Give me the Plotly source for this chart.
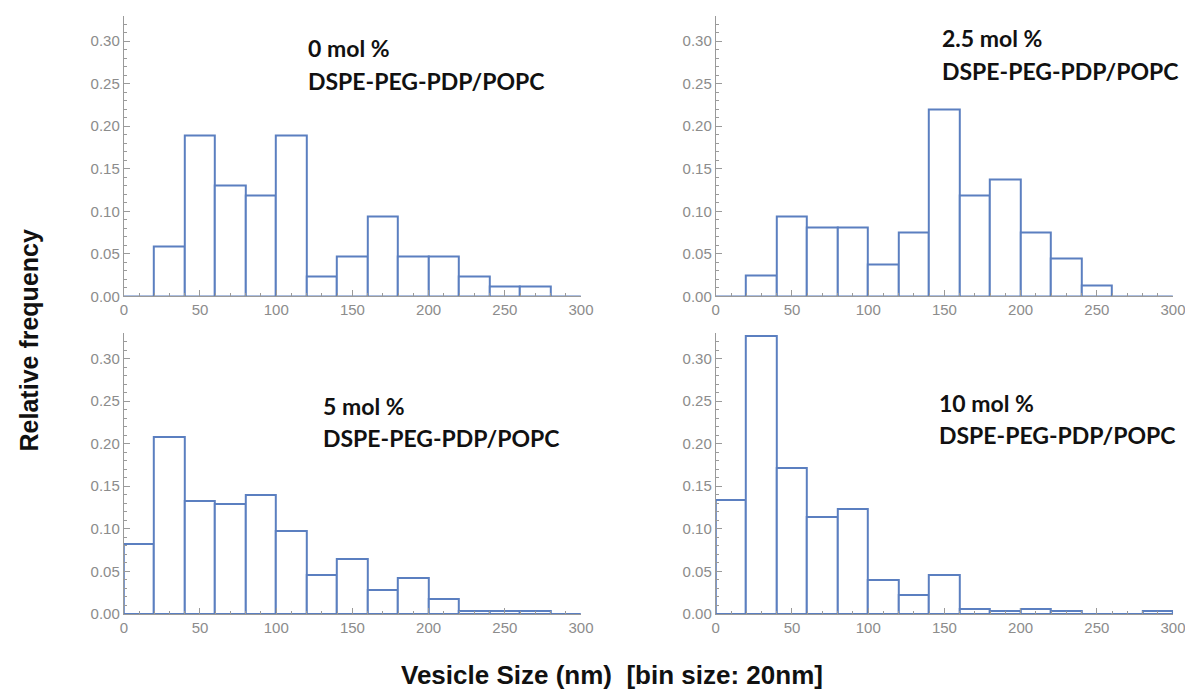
import plotly.graph_objects as go

# ---- data ----
bin_left = [0, 20, 40, 60, 80, 100, 120, 140, 160, 180, 200, 220, 240, 260, 280]
bin_size = 20
freq_0 = [0, 0.059, 0.189, 0.130, 0.118, 0.189, 0.0235, 0.047, 0.094, 0.047, 0.047, 0.0235, 0.0118, 0.0118, 0]
freq_2_5 = [0, 0.0247, 0.094, 0.081, 0.081, 0.0376, 0.075, 0.220, 0.119, 0.1375, 0.075, 0.044, 0.0125, 0, 0]
freq_5 = [0.082, 0.208, 0.133, 0.129, 0.140, 0.097, 0.046, 0.064, 0.028, 0.042, 0.018, 0.003, 0.003, 0.003, 0]
freq_10 = [0.134, 0.326, 0.171, 0.114, 0.1235, 0.040, 0.0227, 0.046, 0.0063, 0.003, 0.0063, 0.003, 0, 0, 0.003]
labels = ["0 mol %", "2.5 mol %", "5 mol %", "10 mol %"]
subtitle = "DSPE-PEG-PDP/POPC"
x_title = "Vesicle Size (nm)\u00a0\u00a0[bin size: 20nm]"
y_title = "Relative frequency"

# reference frame (pixels of the target picture)
RW, RH = 1185, 690
# the captured page appears ~1.3% downscaled; size the figure to compensate
W, H = 1200, 699
def px(v): return v / RW
def py(v): return 1 - v / RH

# panel pixel geometry in the reference: (left, right, top, bottom)
panels = [
    (120, 578, 15.5, 296),
    (713, 1171, 15.5, 296),
    (120, 578, 332.5, 613),
    (713, 1171, 332.5, 613),
]
label_pos = [(303, 48, 81), (938, 37.5, 70.5), (318, 405.5, 437), (935, 402, 434.5)]
series = [freq_0, freq_2_5, freq_5, freq_10]

BLUE = "#5b7fc0"
GRAY = "#9a9a9a"
TICKFONT = dict(family="Liberation Sans, Arial", size=15, color="#8c8c8c")
LABFONT = dict(family="Lato", size=23, color="#111111", weight="bold")
YTITLEFONT = dict(family="Liberation Sans, Arial", size=25, color="#111111", weight="bold")
XTITLEFONT = dict(family="Liberation Sans, Arial", size=26, color="#111111", weight="bold")

fig = go.Figure()
centers = [b + bin_size / 2 for b in bin_left]
for i, vals in enumerate(series):
    n = "" if i == 0 else str(i + 1)
    fig.add_trace(go.Bar(
        x=centers, y=vals, width=bin_size,
        marker=dict(color="white", line=dict(color=BLUE, width=2)),
        xaxis="x" + n, yaxis="y" + n, showlegend=False, hoverinfo="x+y",
    ))
    l, r, t, b = panels[i]
    xa = dict(
        domain=[px(l), px(r)], range=[0, 300], anchor="y" + n,
        showline=True, linecolor=GRAY, linewidth=1, showgrid=False, zeroline=False,
        ticks="inside", ticklen=6, tickcolor=GRAY, tickwidth=1, dtick=50, tick0=0,
        tickfont=TICKFONT,
        minor=dict(dtick=10, tick0=0, ticks="inside", ticklen=3, tickcolor=GRAY, showgrid=False),
    )
    ya = dict(
        domain=[py(b), py(t)], range=[0, 0.33], anchor="x" + n,
        showline=True, linecolor=GRAY, linewidth=1, showgrid=False, zeroline=False,
        ticks="inside", ticklen=6, tickcolor=GRAY, tickwidth=1, dtick=0.05, tick0=0,
        tickformat=".2f", tickfont=TICKFONT,
        minor=dict(dtick=0.01, tick0=0, ticks="inside", ticklen=3, tickcolor=GRAY, showgrid=False),
    )
    fig.layout["xaxis" + n] = xa
    fig.layout["yaxis" + n] = ya
    lx, ly1, ly2 = label_pos[i]
    fig.add_annotation(x=px(lx), y=py(ly1), xref="paper", yref="paper", text=labels[i],
                       showarrow=False, xanchor="left", yanchor="middle", font=LABFONT)
    fig.add_annotation(x=px(lx), y=py(ly2), xref="paper", yref="paper", text=subtitle,
                       showarrow=False, xanchor="left", yanchor="middle", font=LABFONT)

fig.add_annotation(x=px(26), y=py(340), xref="paper", yref="paper", text=y_title,
                   showarrow=False, textangle=-90, xanchor="center", yanchor="middle",
                   font=YTITLEFONT)
fig.add_annotation(x=px(609), y=0, xref="paper", yref="paper", text=x_title,
                   showarrow=False, xanchor="center", yanchor="bottom", borderpad=0,
                   font=XTITLEFONT)

fig.update_layout(
    width=W, height=H, margin=dict(l=0, r=0, t=0, b=0),
    paper_bgcolor="white", plot_bgcolor="white", bargap=0, barmode="overlay",
)
fig.write_html(
    "out.html",
    config={"displayModeBar": False},
    post_script=("document.body.style.margin='0';"
                 "document.body.style.overflow='hidden';"
                 "document.documentElement.style.overflow='hidden';"),
)
